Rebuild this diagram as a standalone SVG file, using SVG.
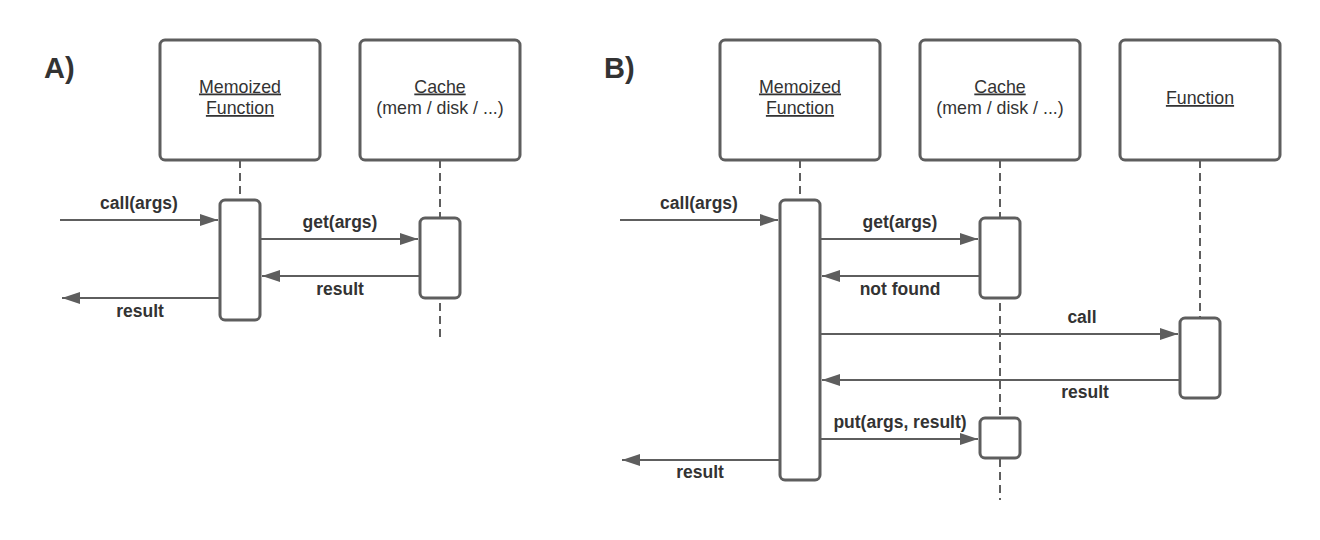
<svg xmlns="http://www.w3.org/2000/svg" width="1320" height="540" viewBox="0 0 1320 540">
<defs>
<marker id="ah" markerUnits="userSpaceOnUse" markerWidth="18" markerHeight="12" refX="18" refY="6" orient="auto">
<path d="M0,0 L18,6 L0,12 z" fill="#5e5e5e"/>
</marker>
<style>
.box{fill:#fff;stroke:#5e5e5e;stroke-width:3}
.act{fill:#fff;stroke:#5e5e5e;stroke-width:3}
.life{stroke:#5e5e5e;stroke-width:2;stroke-dasharray:8 5;fill:none}
.msg{stroke:#5e5e5e;stroke-width:2;fill:none;marker-end:url(#ah)}
.t{font-family:"Liberation Sans",Arial,sans-serif;font-size:17.8px;fill:#333;text-anchor:middle}
.u{text-decoration:underline}
.lbl{font-family:"Liberation Sans",Arial,sans-serif;font-size:17.5px;font-weight:bold;fill:#333;text-anchor:middle}
.title{font-family:"Liberation Sans",Arial,sans-serif;font-size:29px;font-weight:bold;fill:#333}
</style>
</defs>
<rect width="1320" height="540" fill="#fff"/>
<text class="title" x="44" y="78">A)</text>
<text class="title" x="604" y="78">B)</text>

<g id="lifelines">
<line class="life" x1="240" y1="160" x2="240" y2="200"/>
<line class="life" x1="440" y1="160" x2="440" y2="340"/>
<line class="life" x1="800" y1="160" x2="800" y2="200"/>
<line class="life" x1="1000" y1="160" x2="1000" y2="500"/>
<line class="life" x1="1200" y1="160" x2="1200" y2="318"/>
</g>

<g id="A-memo"><rect class="box" x="160" y="40" width="160" height="120" rx="5"/>
<text class="t u" x="240" y="92.5">Memoized</text><text class="t u" x="240" y="114">Function</text></g>
<g id="A-cache"><rect class="box" x="360" y="40" width="160" height="120" rx="5"/>
<text class="t u" x="440" y="92.5">Cache</text><text class="t" x="440" y="114">(mem / disk / ...)</text></g>
<g id="A-memo-act"><rect class="act" x="220" y="200" width="40" height="120" rx="5"/></g>
<g id="A-cache-act"><rect class="act" x="420" y="218" width="40" height="80" rx="5"/></g>

<g id="B-memo"><rect class="box" x="720" y="40" width="160" height="120" rx="5"/>
<text class="t u" x="800" y="92.5">Memoized</text><text class="t u" x="800" y="114">Function</text></g>
<g id="B-cache"><rect class="box" x="920" y="40" width="160" height="120" rx="5"/>
<text class="t u" x="1000" y="92.5">Cache</text><text class="t" x="1000" y="114">(mem / disk / ...)</text></g>
<g id="B-func"><rect class="box" x="1120" y="40" width="160" height="120" rx="5"/>
<text class="t u" x="1200" y="104">Function</text></g>
<g id="B-memo-act"><rect class="act" x="780" y="200" width="40" height="280" rx="5"/></g>
<g id="B-cache-act1"><rect class="act" x="980" y="218" width="40" height="80" rx="5"/></g>
<g id="B-cache-act2"><rect class="act" x="980" y="418" width="40" height="40" rx="5"/></g>
<g id="B-func-act"><rect class="act" x="1180" y="318" width="40" height="80" rx="5"/></g>

<g id="connectors">
<line class="msg" x1="60" y1="220" x2="218" y2="220"/>
<text class="lbl" x="139" y="209">call(args)</text>
<line class="msg" x1="261" y1="239" x2="418" y2="239"/>
<text class="lbl" x="340" y="228">get(args)</text>
<line class="msg" x1="419" y1="276" x2="262" y2="276"/>
<text class="lbl" x="340" y="295">result</text>
<line class="msg" x1="219" y1="298" x2="62" y2="298"/>
<text class="lbl" x="140" y="317">result</text>

<line class="msg" x1="620" y1="220" x2="778" y2="220"/>
<text class="lbl" x="699" y="209">call(args)</text>
<line class="msg" x1="821" y1="239" x2="978" y2="239"/>
<text class="lbl" x="900" y="228">get(args)</text>
<line class="msg" x1="979" y1="276" x2="822" y2="276"/>
<text class="lbl" x="900" y="295">not found</text>
<line class="msg" x1="821" y1="334" x2="1178" y2="334"/>
<text class="lbl" x="1082" y="323">call</text>
<line class="msg" x1="1179" y1="380" x2="822" y2="380"/>
<text class="lbl" x="1085" y="398">result</text>
<line class="msg" x1="821" y1="439" x2="978" y2="439"/>
<text class="lbl" x="900" y="428">put(args, result)</text>
<line class="msg" x1="779" y1="460" x2="622" y2="460"/>
<text class="lbl" x="700" y="478">result</text>
</g>
</svg>
